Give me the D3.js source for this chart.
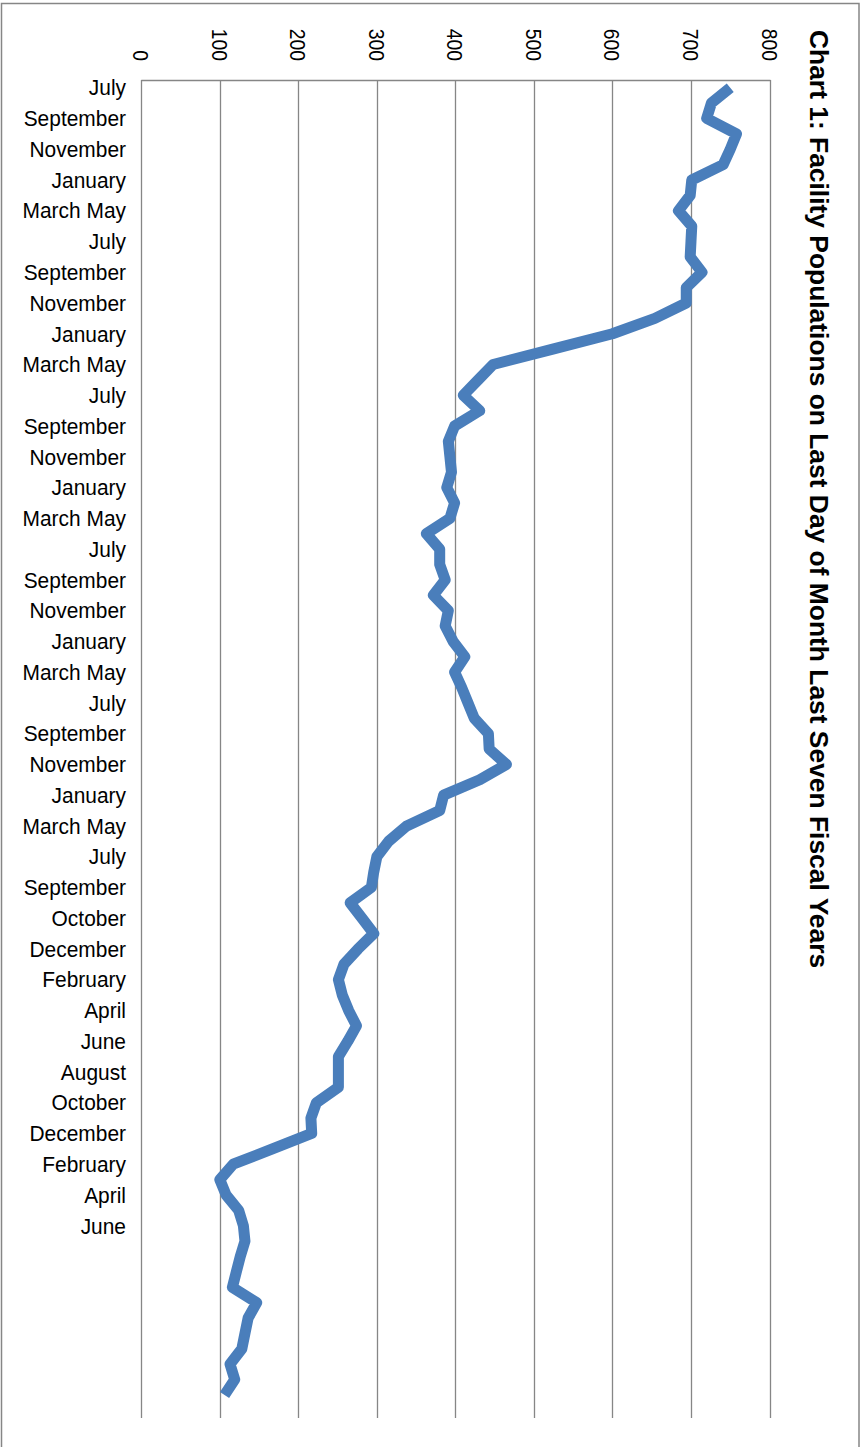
<!DOCTYPE html>
<html>
<head>
<meta charset="utf-8">
<script src="https://cdn.jsdelivr.net/npm/d3@7"></script>
<style>
  html, body { margin: 0; padding: 0; background: #fff; }
  svg { display: block; }
</style>
</head>
<body>
<svg id="chart" width="865" height="1447"></svg>
<script>
// ---- data ----
const titleText = "Chart 1: Facility Populations on Last Day of Month Last Seven Fiscal Years";
const valueTicks = [0, 100, 200, 300, 400, 500, 600, 700, 800];
const categoryLabels = [
  "July","September","November","January","March May",
  "July","September","November","January","March May",
  "July","September","November","January","March May",
  "July","September","November","January","March May",
  "July","September","November","January","March May",
  "July","September","October","December","February","April","June",
  "August","October","December","February","April","June"
];
const categoryCount = 87;
const populations = [
  750, 726, 720, 758, 750, 741, 701, 699, 684, 701,
  700, 699, 714, 694, 694, 654, 600, 524, 448, 429,
  410, 431, 399, 391, 393, 395, 389, 399, 393, 363,
  380, 380, 387, 372, 391, 387, 397, 412, 399, 408,
  416, 424, 442, 443, 465, 431, 385, 380, 338, 315,
  300, 296, 293, 266, 281, 296, 276, 258, 251, 256,
  264, 274, 263, 251, 251, 251, 223, 216, 217, 167,
  117, 100, 108, 124, 130, 132, 126, 121, 116, 147,
  136, 132, 128, 113, 119, 106
];

// ---- layout ----
const svg = d3.select("#chart");
const plot = { left: 141.3, right: 769.5, top: 80, bottom: 1418 };
const gridColor = "#868686";
const lineColor = "#4a7ebb";
const font = "'Liberation Sans', Arial, sans-serif";

// outer border
svg.append("rect")
  .attr("x", 1.5).attr("y", 3.5).attr("width", 857.5).attr("height", 1460)
  .attr("fill", "none").attr("stroke", gridColor).attr("stroke-width", 1.5);

const x = d3.scaleLinear().domain([0, 800]).range([plot.left, plot.right]);
const y = d3.scaleBand().domain(d3.range(categoryCount)).range([plot.top, plot.bottom]).padding(0);
const cy = i => y(i) + y.bandwidth() / 2;

// gridlines
svg.append("g").selectAll("line").data(valueTicks).join("line")
  .attr("x1", d => Math.round(x(d)) + 0.5).attr("x2", d => Math.round(x(d)) + 0.5)
  .attr("y1", plot.top).attr("y2", plot.bottom)
  .attr("stroke", gridColor).attr("stroke-width", 1.3);

// value axis line (top)
svg.append("line")
  .attr("x1", plot.left).attr("x2", plot.right + 1)
  .attr("y1", plot.top + 0.5).attr("y2", plot.top + 0.5)
  .attr("stroke", gridColor).attr("stroke-width", 1.3);

// value tick labels, rotated (slightly condensed face)
svg.append("g").selectAll("text").data(valueTicks).join("text")
  .attr("transform", d => `translate(${x(d)},61) rotate(90) scale(0.88,1)`)
  .attr("text-anchor", "end")
  .attr("dominant-baseline", "central")
  .attr("font-family", font).attr("font-size", 22)
  .attr("fill", "#000")
  .text(d => d);

// category labels (slightly condensed face)
svg.append("g").selectAll("text").data(categoryLabels).join("text")
  .attr("transform", (d, i) => `translate(126,${cy(i * 2)}) scale(0.93,1)`)
  .attr("text-anchor", "end")
  .attr("dominant-baseline", "central")
  .attr("font-family", font).attr("font-size", 22.5)
  .attr("fill", "#000")
  .text(d => d);

// line
const line = d3.line()
  .x(d => x(d))
  .y((d, i) => cy(i));
svg.append("path")
  .datum(populations)
  .attr("d", line)
  .attr("fill", "none")
  .attr("stroke", lineColor)
  .attr("stroke-width", 11)
  .attr("stroke-linejoin", "round")
  .attr("stroke-linecap", "butt");

// title, rotated
svg.append("text")
  .attr("transform", "translate(810,30) rotate(90)")
  .attr("text-anchor", "start")
  .attr("font-family", font).attr("font-size", 26.4).attr("font-weight", "bold")
  .attr("fill", "#000")
  .text(titleText);
</script>
</body>
</html>
